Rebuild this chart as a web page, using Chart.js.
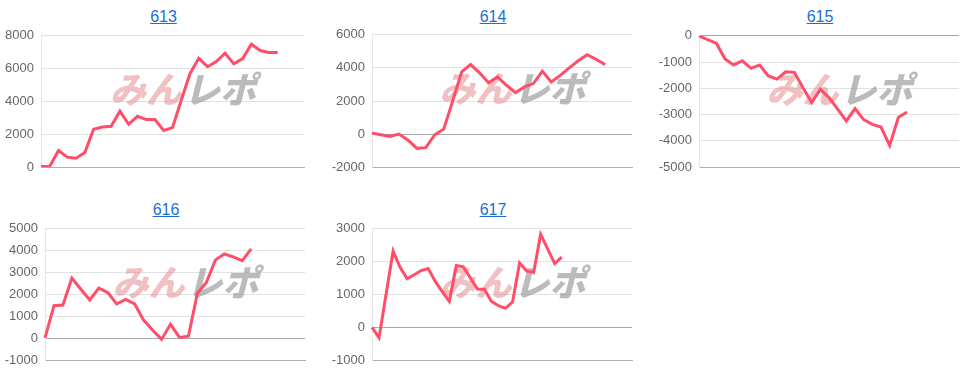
<!DOCTYPE html>
<html>
<head>
<meta charset="utf-8">
<script src="https://cdn.jsdelivr.net/npm/chart.js@4"></script>
<style>
  body { margin: 0; background: #fff; width: 979px; height: 382px; position: relative; overflow: hidden; }
  .title { position: absolute; width: 120px; text-align: center; font: 16px "Liberation Sans", Arial, sans-serif; }
  .title a { color: #1a6fd1; text-decoration: underline; }
  .box { position: absolute; }
</style>
</head>
<body>
<script>
// chart names
const titles = ['613', '614', '615', '616', '617'];

// series values, one point per day index
const values613 = [40, 60, 1020, 610, 550, 900, 2310, 2450, 2490, 3410, 2610, 3100, 2900, 2900,
  2240, 2410, 4080, 5710, 6630, 6120, 6430, 6940, 6290, 6610, 7490, 7100, 6980, 6980];
const values614 = [60, -40, -140, 0, -350, -860, -820, -40, 300, 2000, 3760, 4200, 3700, 3100,
  3450, 2950, 2500, 2850, 3050, 3800, 3150, 3550, 4000, 4430, 4800, 4520, 4200];
const values615 = [0, -150, -280, -880, -1110, -950, -1240, -1110, -1530, -1650, -1370, -1390,
  -1980, -2540, -2040, -2350, -2790, -3240, -2770, -3190, -3370, -3470, -4170, -3110, -2900];
const values616 = [20, 1490, 1520, 2750, 2240, 1750, 2290, 2090, 1570, 1780, 1570, 830, 380,
  -50, 640, 40, 100, 2060, 2550, 3570, 3850, 3720, 3550, 4080];
const values617 = [0, -320, 1000, 2320, 1830, 1480, 1600, 1730, 1790, 1400, 1090, 790, 1880,
  1840, 1500, 1170, 1160, 790, 660, 580, 770, 1960, 1720, 1670, 2830, 2390, 1940, 2140];

// x range (number of day slots) and y tick ranges
const xSlots = [30, 29, 30, 29, 37];
const yMin = [0, -2000, -5000, -1000, -1000];
const yMax = [8000, 6000, 0, 5000, 3000];
const yStep = [2000, 2000, 1000, 1000, 1000];

const series = [values613, values614, values615, values616, values617];

// plot area boxes in page pixels: left, right, top, bottom
const plots = [
  [41, 304, 36, 167],
  [372, 632, 35, 167],
  [699, 959, 36, 167],
  [45, 305, 229, 360],
  [372, 632, 229, 360]
];
const titleY = [8, 8, 8, 201, 201];

const AXIS_W = 45;
const PAD = 15; // space Chart.js keeps above/below the plot for the end tick labels

// "みんレポ" watermark behind the line
const watermark = {
  id: 'watermark',
  beforeDatasetsDraw(chart) {
    const a = chart.chartArea;
    const cx = (a.left + a.right) / 2 + 13;
    const cy = a.top + 54;
    const ctx = chart.ctx;
    ctx.save();
    ctx.translate(cx, cy);
    ctx.transform(1, 0, -0.25, 1, 0, 0);
    ctx.font = '900 36px "Noto Sans CJK JP", sans-serif';
    ctx.textBaseline = 'middle';
    const w1 = ctx.measureText('みん').width;
    const w2 = ctx.measureText('レポ').width;
    const x = -(w1 + w2) / 2;
    ctx.fillStyle = 'rgba(228, 130, 135, 0.5)';
    ctx.fillText('みん', x, 0);
    ctx.fillStyle = 'rgba(150, 150, 150, 0.65)';
    ctx.fillText('レポ', x + w1 + 2, 0);
    ctx.restore();
  }
};

series.forEach((data, i) => {
  const [pl, pr, pt, pb] = plots[i];

  const t = document.createElement('div');
  t.className = 'title';
  t.style.left = ((pl + pr) / 2 - 60 - 9) + 'px';
  t.style.top = titleY[i] + 'px';
  const link = document.createElement('a');
  link.href = '#';
  link.textContent = titles[i];
  t.appendChild(link);
  document.body.appendChild(t);

  const box = document.createElement('div');
  box.className = 'box';
  box.style.left = (pl - AXIS_W) + 'px';
  box.style.top = (pt - PAD) + 'px';
  box.style.width = (pr - pl + AXIS_W + 4) + 'px';
  box.style.height = (pb - pt + PAD * 2) + 'px';
  const canvas = document.createElement('canvas');
  box.appendChild(canvas);
  document.body.appendChild(box);

  const labels = [];
  for (let k = 0; k <= xSlots[i]; k++) labels.push(String(k));

  new Chart(canvas, {
    type: 'line',
    data: {
      labels: labels,
      datasets: [{
        data: data,
        borderColor: 'rgb(255, 77, 106)',
        borderWidth: 3,
        pointRadius: 0,
        tension: 0,
        fill: false
      }]
    },
    options: {
      responsive: true,
      maintainAspectRatio: false,
      animation: false,
      layout: { padding: { top: 0, bottom: 0, right: 4, left: 0 } },
      plugins: { legend: { display: false }, tooltip: { enabled: false } },
      scales: {
        x: {
          ticks: { display: false },
          grid: { display: false },
          border: { color: '#b0b0b0', width: 1 },
          afterFit(scale) { scale.height = 0; }
        },
        y: {
          min: yMin[i],
          max: yMax[i],
          ticks: {
            stepSize: yStep[i],
            color: '#666',
            padding: 7,
            font: { family: '"Liberation Sans", Arial, sans-serif', size: 13 },
            callback: v => String(v)
          },
          grid: {
            drawTicks: false,
            color: ctx => (ctx.tick && ctx.tick.value === 0) ? '#a8a8a8' : '#e2e2e2'
          },
          border: { color: '#e6e6e6' },
          afterFit(scale) { scale.width = AXIS_W; }
        }
      }
    },
    plugins: [watermark]
  });
});
</script>
</body>
</html>
